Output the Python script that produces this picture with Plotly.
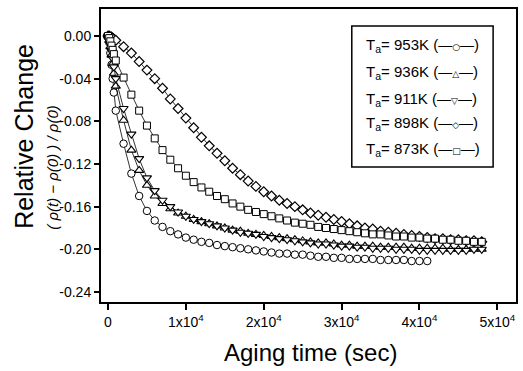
import plotly.graph_objects as go

# ---------------- data ----------------
T_EARLY = [0, 150, 300, 450, 600, 750]

# 953 K  (circles) : early points then every 1000 s up to 41000 s
t_953 = T_EARLY + list(range(1000, 41001, 1000))
y_953 = [0.0, -0.006, -0.016, -0.027, -0.040, -0.053,
         -0.070, -0.101, -0.129, -0.150, -0.164, -0.173, -0.179, -0.183, -0.186, -0.189,
         -0.191, -0.193, -0.194, -0.196, -0.197, -0.198, -0.199, -0.200, -0.201, -0.202,
         -0.203, -0.204, -0.204, -0.205, -0.205, -0.206, -0.207, -0.207, -0.208, -0.208,
         -0.209, -0.209, -0.209, -0.209, -0.210, -0.210, -0.210, -0.210, -0.211, -0.211,
         -0.211]

# 936 K  (triangle up)
t_936 = T_EARLY + list(range(1000, 48001, 1000))
y_936 = [0.0, -0.004, -0.010, -0.018, -0.026, -0.035,
         -0.047, -0.079, -0.107, -0.126, -0.140, -0.150, -0.157, -0.162, -0.166, -0.169,
         -0.172, -0.174, -0.176, -0.178, -0.180, -0.182, -0.183, -0.185, -0.186, -0.187,
         -0.188, -0.189, -0.190, -0.191, -0.192, -0.193, -0.194, -0.194, -0.195, -0.196,
         -0.196, -0.197, -0.197, -0.197, -0.198, -0.198, -0.198, -0.198, -0.199, -0.199,
         -0.199, -0.199, -0.199, -0.200, -0.200, -0.200, -0.200, -0.200]

# 911 K  (triangle down)
t_911 = T_EARLY + list(range(1000, 48001, 1000))
y_911 = [0.0, -0.003, -0.008, -0.014, -0.021, -0.029,
         -0.040, -0.068, -0.092, -0.115, -0.133, -0.145, -0.154, -0.160, -0.165, -0.169,
         -0.172, -0.174, -0.176, -0.178, -0.180, -0.182, -0.184, -0.185, -0.186, -0.188,
         -0.189, -0.190, -0.191, -0.192, -0.193, -0.194, -0.195, -0.195, -0.196, -0.197,
         -0.197, -0.198, -0.198, -0.199, -0.199, -0.199, -0.200, -0.200, -0.200, -0.201,
         -0.201, -0.201, -0.201, -0.201, -0.201, -0.201, -0.200, -0.200]

# 898 K  (diamonds)
t_898 = T_EARLY + list(range(1000, 48001, 1000))
y_898 = [0.0, -0.000, -0.001, -0.001, -0.002, -0.003,
         -0.004, -0.010, -0.016, -0.024, -0.032, -0.040, -0.049, -0.059, -0.068, -0.077,
         -0.086, -0.095, -0.103, -0.110, -0.117, -0.124, -0.130, -0.136, -0.141, -0.146,
         -0.150, -0.154, -0.157, -0.160, -0.163, -0.166, -0.168, -0.170, -0.172, -0.174,
         -0.176, -0.178, -0.180, -0.181, -0.183, -0.184, -0.185, -0.186, -0.187, -0.188,
         -0.189, -0.190, -0.190, -0.191, -0.191, -0.192, -0.192, -0.193]

# 873 K  (squares)
t_873 = T_EARLY + list(range(1000, 48001, 1000))
y_873 = [0.0, -0.002, -0.005, -0.009, -0.013, -0.017,
         -0.023, -0.039, -0.055, -0.070, -0.084, -0.096, -0.107, -0.116, -0.124, -0.131,
         -0.137, -0.142, -0.146, -0.150, -0.153, -0.157, -0.160, -0.163, -0.165, -0.167,
         -0.169, -0.171, -0.173, -0.175, -0.176, -0.177, -0.179, -0.180, -0.181, -0.182,
         -0.183, -0.184, -0.185, -0.186, -0.186, -0.187, -0.188, -0.188, -0.189, -0.189,
         -0.190, -0.190, -0.191, -0.191, -0.192, -0.192, -0.193, -0.193]

SERIES_LABELS = ["953K", "936K", "911K", "898K", "873K"]
SERIES_SYMBOLS = ["circle", "triangle-up", "triangle-down", "diamond", "square"]
LEGEND_GLYPHS = ["○", "△", "▽", "◇", "□"]

X_TICKS = [0, 10000, 20000, 30000, 40000, 50000]
X_TICKTEXT = ["0", "1x10<sup>4</sup>", "2x10<sup>4</sup>", "3x10<sup>4</sup>",
              "4x10<sup>4</sup>", "5x10<sup>4</sup>"]
Y_TICKS = [0.0, -0.04, -0.08, -0.12, -0.16, -0.20, -0.24]
Y_TICKTEXT = ["0.00", "-0.04", "-0.08", "-0.12", "-0.16", "-0.20", "-0.24"]

# ---------------- layout geometry ----------------
W, H = 523, 371
L, R, T, B = 101, 5, 9, 69
PW, PH = W - L - R, H - T - B


def px(xp):
    return (xp - L) / PW


def py(yp):
    return (H - B - yp) / PH


SANS = "Liberation Sans, Arial, Helvetica, sans-serif"

fig = go.Figure()
all_t = [t_953, t_936, t_911, t_898, t_873]
all_y = [y_953, y_936, y_911, y_898, y_873]
sizes = [7.5, 8, 8, 7.5, 7]
widths = [1.0, 1.1, 1.1, 1.2, 1.0]
for t, y, lab, sym, sz, lw in zip(all_t, all_y, SERIES_LABELS, SERIES_SYMBOLS, sizes, widths):
    fig.add_trace(go.Scatter(
        x=t, y=y, mode="lines+markers", name=lab,
        line=dict(color="black", width=0.8),
        marker=dict(symbol=sym, size=sz, color="white",
                    line=dict(color="black", width=lw)),
        showlegend=False,
    ))

fig.update_layout(
    width=W, height=H,
    margin=dict(l=L, r=R, t=T, b=B),
    paper_bgcolor="white", plot_bgcolor="white",
    font=dict(family=SANS, color="black"),
    xaxis=dict(range=[-900, 52400], tickvals=X_TICKS, ticktext=X_TICKTEXT,
               showgrid=False, zeroline=False, showline=True, linecolor="black",
               linewidth=2, mirror=True, ticks="outside", ticklen=6, tickwidth=2,
               tickcolor="black", tickfont=dict(family=SANS, size=14)),
    yaxis=dict(range=[-0.2494, 0.0253], tickvals=Y_TICKS, ticktext=Y_TICKTEXT,
               showgrid=False, zeroline=False, showline=True, linecolor="black",
               linewidth=2, mirror=True, ticks="outside", ticklen=5, tickwidth=2,
               tickcolor="black", tickfont=dict(family=SANS, size=14)),
)

# axis titles
fig.add_annotation(text="Aging time (sec)", xref="paper", yref="paper",
                   x=px(312), y=py(352), xanchor="center", yanchor="middle",
                   showarrow=False, font=dict(family=SANS, size=24))
fig.add_annotation(text="Relative Change", xref="paper", yref="paper",
                   x=px(24), y=py(231), xanchor="center", yanchor="bottom",
                   textangle=-90, showarrow=False, font=dict(family=SANS, size=25))
fig.add_annotation(text="<i>( ρ(t) − ρ(0) ) / ρ(0)</i>", xref="paper", yref="paper",
                   x=px(52), y=py(232), xanchor="center", yanchor="bottom",
                   textangle=-90, showarrow=False, font=dict(family=SANS, size=15))

# legend box (text based, as in the original)
fig.add_shape(type="rect", xref="paper", yref="paper",
              x0=px(353), x1=px(495), y0=py(167), y1=py(26),
              line=dict(color="black", width=1.5), fillcolor="white", layer="above")
row_y = [45, 72, 99, 124, 149]
for lab, g, yy in zip(SERIES_LABELS, LEGEND_GLYPHS, row_y):
    txt = ("T<sub>a</sub>= " + lab + " (" +
           "<span style='font-size:14px'>—</span>" +
           "<span style='font-size:9px;font-family:DejaVu Sans'>" + g + "</span>" +
           "<span style='font-size:14px'>—</span>)")
    fig.add_annotation(text=txt, xref="paper", yref="paper", x=px(365), y=py(yy),
                       xanchor="left", yanchor="middle", showarrow=False,
                       font=dict(family=SANS, size=15))

fig.write_html("out.html")
